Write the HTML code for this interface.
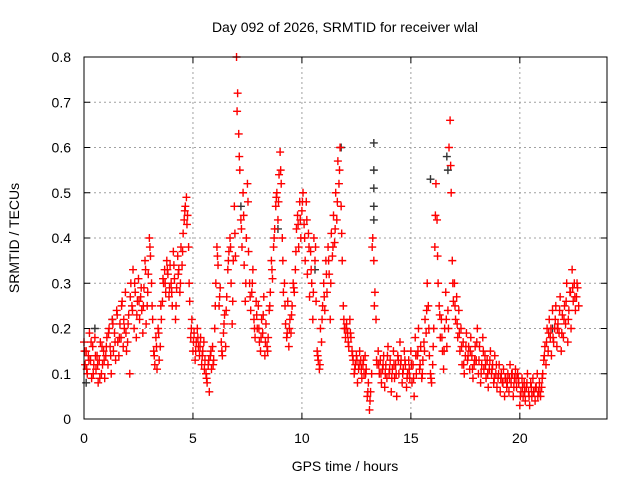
<!DOCTYPE html>
<html><head><meta charset="utf-8"><style>
body{margin:0;background:#fff;}
svg{display:block;font-family:"Liberation Sans","DejaVu Sans",sans-serif;}
</style></head><body>
<svg id="chart" width="640" height="480" viewBox="0 0 640 480" xmlns="http://www.w3.org/2000/svg">
<rect width="640" height="480" fill="#fff"/>
<text x="345" y="32" font-size="14" text-anchor="middle" fill="#000">Day 092 of 2026, SRMTID for receiver wlal</text>
<text x="19" y="238" font-size="14" text-anchor="middle" transform="rotate(-90 19 238)" fill="#000">SRMTID / TECUs</text>
<text x="345" y="471" font-size="14" text-anchor="middle" fill="#000">GPS time / hours</text>
<g id="grid"></g>
<g id="ticks"></g>
<g id="marks"></g>
<rect x="84" y="57" width="523" height="362" fill="none" stroke="#000" stroke-width="1"/>
</svg>
<script>
const xTicks = [0, 5, 10, 15, 20];
const yTicks = [0, 0.1, 0.2, 0.3, 0.4, 0.5, 0.6, 0.7, 0.8];
const sampleStep = 0.05;
const sampleStep2 = 0.1;
const redRows = [
[.17,.12,.15,.10,.14,.19,.13,.09,.16,.12,.18,.11,.14,.08,.13,.17,.10,.12,.15,.09],
[.14,.18,.12,.20,.16,.10,.22,.15,.19,.13,.24,.17,.14,.21,.18,.26,.16,.20,.28,.15],
[.17,.23,.10,.30,.25,.33,.20,.28,.18,.26,.31,.22,.27,.24,.19,.29,.35,.21,.25,.32],
[.40,.36,.30,.22,.15,.12,.18,.11,.20,.13,.16,.22,.26,.30,.33,.28,.35,.32,.27,.34],
[.30,.25,.37,.31,.22,.29,.36,.33,.28,.38,.34,.41,.44,.47,.49,.45,.38,.26,.18,.22],
[.15,.19,.13,.17,.20,.16,.14,.18,.12,.15,.17,.13,.10,.08,.12,.06,.14,.11,.16,.13],
[.20,.30,.38,.34,.25,.29,.17,.14,.19,.23,.16,.27,.33,.37,.40,.30,.21,.35,.47,.36],
[.80,.72,.63,.55,.44,.38,.50,.34,.26,.40,.52,.37,.30,.24,.28,.33,.22,.18,.26,.20],
[.25,.17,.15,.22,.19,.27,.14,.21,.16,.18,.24,.28,.35,.31,.38,.42,.47,.50,.44,.54],
[.59,.52,.40,.28,.30,.21,.18,.26,.16,.22,.19,.25,.30,.28,.33,.42,.45,.38,.48,.40],
[.46,.50,.43,.35,.48,.32,.41,.27,.37,.30,.22,.40,.35,.26,.15,.13,.11,.20,.17,.25],
[.30,.24,.35,.28,.38,.32,.22,.41,.36,.45,.39,.50,.44,.57,.52,.60,.47,.35,.25,.20],
[.18,.21,.19,.16,.22,.18,.15,.13,.10,.12,.14,.08,.11,.15,.13,.09,.12,.10,.14,.11],
[.05,.08,.02,.06,.10,.40,.35,.28,.22,.12,.15,.10,.13,.08,.11,.14,.07,.12,.09,.16],
[.10,.13,.06,.11,.15,.09,.12,.05,.14,.10,.17,.13,.08,.11,.15,.12,.07,.10,.13,.09],
[.15,.08,.12,.05,.18,.10,.14,.20,.11,.16,.09,.13,.17,.22,.19,.30,.25,.14,.10,.08],
[.12,.20,.38,.52,.44,.30,.25,.18,.22,.15,.11,.20,.28,.16,.24,.60,.66,.50,.35,.26],
[.30,.22,.27,.18,.24,.15,.20,.12,.17,.10,.14,.19,.13,.16,.11,.18,.14,.09,.12,.16],
[.13,.20,.10,.16,.08,.12,.18,.11,.14,.09,.13,.07,.11,.15,.10,.12,.08,.14,.10,.07],
[.09,.12,.06,.10,.08,.11,.05,.09,.07,.10,.06,.12,.08,.10,.05,.09,.11,.07,.10,.08],
[.03,.06,.09,.05,.08,.04,.07,.10,.06,.03,.08,.05,.09,.06,.04,.07,.10,.06,.08,.05],
[.07,.10,.13,.16,.12,.20,.15,.22,.18,.14,.24,.17,.20,.25,.16,.21,.19,.27,.15,.23],
[.18,.25,.21,.30,.17,.24,.28,.20,.33,.26,.30,.24,.27,.29,.25]
];
const redRows2 = [
[.15,.11,.13,.17,.10,.14,.12,.09,.16,.13],
[.16,.19,.14,.21,.17,.23,.18,.25,.22,.19],
[.21,.27,.24,.30,.23,.26,.29,.25,.33,.28],
[.38,.25,.14,.16,.19,.25,.31,.30,.33,.29],
[.28,.34,.25,.32,.30,.37,.46,.43,.30,.20],
[.17,.15,.18,.16,.14,.11,.09,.13,.15,.12],
[.25,.36,.27,.15,.21,.24,.35,.38,.26,.41],
[.68,.58,.42,.45,.30,.48,.27,.30,.20,.23],
[.20,.18,.23,.17,.15,.25,.33,.40,.49,.48],
[.55,.35,.25,.19,.20,.23,.29,.37,.43,.44],
[.48,.40,.44,.38,.33,.28,.38,.14,.12,.22],
[.27,.32,.35,.30,.38,.42,.48,.55,.41,.22],
[.20,.17,.19,.14,.11,.13,.12,.11,.13,.10],
[.06,.04,.38,.25,.13,.12,.10,.12,.10,.14],
[.11,.09,.12,.10,.13,.12,.10,.13,.09,.11],
[.12,.09,.14,.15,.12,.10,.15,.24,.20,.09],
[.16,.45,.36,.23,.18,.15,.22,.20,.56,.30],
[.25,.21,.19,.16,.12,.16,.14,.15,.11,.13],
[.17,.13,.10,.15,.12,.10,.13,.11,.09,.12],
[.10,.09,.08,.09,.08,.09,.10,.07,.09,.09],
[.05,.07,.06,.08,.05,.07,.06,.07,.05,.06],
[.09,.14,.17,.19,.20,.18,.22,.20,.24,.19],
[.22,.26,.22,.28,.29,.27,.30]
];
const blackTimes = [0.1, 0.5, 1.3, 7.2, 8.9, 11.8, 13.3, 13.3, 13.3, 13.3, 13.3, 15.9, 16.65, 16.7, 10.6, 21.5];
const blackValues = [0.08, 0.20, 0.22, 0.47, 0.42, 0.60, 0.61, 0.55, 0.51, 0.47, 0.44, 0.53, 0.58, 0.55, 0.33, 0.20];

const NS = 'http://www.w3.org/2000/svg';
const plotLeft = 84, plotRight = 607, plotTop = 57, plotBottom = 419;
const xMax = 24, yMax = 0.8;
function xs(t){ return plotLeft + t / xMax * (plotRight - plotLeft); }
function ys(v){ return plotBottom - v / yMax * (plotBottom - plotTop); }
function mk(tag, attrs, parent){
  const e = document.createElementNS(NS, tag);
  for (const k in attrs) e.setAttribute(k, attrs[k]);
  parent.appendChild(e); return e;
}
const gridG = document.getElementById('grid');
const ticksG = document.getElementById('ticks');
const marksG = document.getElementById('marks');
xTicks.forEach(t => {
  const x = xs(t);
  if (t > 0) {
    const g = mk('line', {x1:x, x2:x, y1:plotTop, y2:plotBottom, stroke:'#a0a0a0', 'stroke-dasharray':'2,3'}, gridG);
    
    
  }
  mk('line', {x1:x, x2:x, y1:plotBottom, y2:plotBottom-6, stroke:'#000'}, ticksG);
  mk('line', {x1:x, x2:x, y1:plotTop, y2:plotTop+6, stroke:'#000'}, ticksG);
  const l = mk('text', {x:x, y:plotBottom+24, 'font-size':14, 'text-anchor':'middle', fill:'#000'}, ticksG);
  l.textContent = t;
  
  
});
yTicks.forEach(v => {
  const y = ys(v);
  if (v > 0 && v < yMax) {
    const g = mk('line', {x1:plotLeft, x2:plotRight, y1:y, y2:y, stroke:'#a0a0a0', 'stroke-dasharray':'2,3'}, gridG);
    
    
  }
  mk('line', {x1:plotLeft, x2:plotLeft+6, y1:y, y2:y, stroke:'#000'}, ticksG);
  mk('line', {x1:plotRight, x2:plotRight-6, y1:y, y2:y, stroke:'#000'}, ticksG);
  const l = mk('text', {x:plotLeft-13, y:y+5, 'font-size':14, 'text-anchor':'end', fill:'#000'}, ticksG);
  l.textContent = v === 0 ? '0' : v.toFixed(1);
  
  
});
function plus(t, v, color, name){
  const x = xs(t), y = ys(v);
  const p = mk('path', {d:`M${x-4},${y}H${x+4}M${x},${y-4}V${y+4}`, stroke:color, 'stroke-width':1.4, fill:'none'}, marksG);
  
  
}
blackTimes.forEach((t, i) => plus(t, blackValues[i], '#333', 'black-point'));
redRows.forEach((row, h) => row.forEach((v, i) => plus(h + i * sampleStep, v, '#ff0000', 'red-point')));
redRows2.forEach((row, h) => row.forEach((v, i) => plus(h + 0.025 + i * sampleStep2, v, '#ff0000', 'red-point')));
</script>
</body></html>
